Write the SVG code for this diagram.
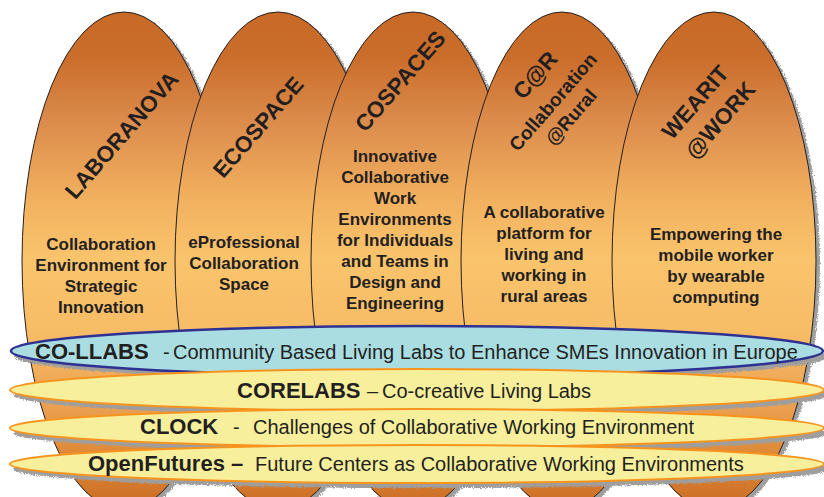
<svg xmlns="http://www.w3.org/2000/svg" width="824" height="497" viewBox="0 0 824 497">
<defs>
<linearGradient id="og" gradientUnits="userSpaceOnUse" x1="0" y1="12" x2="0" y2="510">
<stop offset="0" stop-color="#C86926"/>
<stop offset="0.096" stop-color="#CB6E2B"/>
<stop offset="0.217" stop-color="#DB8B4B"/>
<stop offset="0.378" stop-color="#F2B15F"/>
<stop offset="0.498" stop-color="#FAC46C"/>
<stop offset="0.639" stop-color="#F7BC66"/>
<stop offset="0.779" stop-color="#EDA354"/>
<stop offset="0.92" stop-color="#D9812F"/>
<stop offset="1" stop-color="#C96A26"/>
</linearGradient>
<filter id="rough" x="-5%" y="-5%" width="110%" height="115%">
<feTurbulence type="fractalNoise" baseFrequency="0.9" numOctaves="2" seed="3" result="n"/>
<feDisplacementMap in="SourceGraphic" in2="n" scale="5" xChannelSelector="R" yChannelSelector="G"/>
</filter>
</defs>
<style>
.tall{fill:url(#og);stroke:#231F20;stroke-width:1}
.sh{fill:#9E9E9E;filter:url(#rough)}
.title{font-family:"Liberation Sans",Arial,sans-serif;font-weight:bold;font-size:22.5px;fill:#231F20;text-anchor:middle}
.sub{font-size:19px}
.desc{font-family:"Liberation Sans",Arial,sans-serif;font-weight:bold;font-size:17px;fill:#231F20;text-anchor:middle}
.blue{fill:#A9DDE2;stroke:#2E3192;stroke-width:2.5}
.yel{fill:#F7EF9B;stroke:#F7941D;stroke-width:2}
.band{font-family:"Liberation Sans",Arial,sans-serif;font-size:20px;fill:#231F20}
.b{font-weight:bold;font-size:22px}
</style>
<rect width="824" height="497" fill="#FFFFFF"/>

<g id="laboranova">
<ellipse class="sh" cx="128" cy="264" rx="102" ry="249"/>
<ellipse class="tall" cx="124" cy="261" rx="102" ry="249"/>
<text class="title" transform="translate(121.5,135) rotate(-49)" x="0" y="8">LABORANOVA</text>
<text class="desc" x="101" y="250">Collaboration</text>
<text class="desc" x="101" y="271">Environment for</text>
<text class="desc" x="101" y="292">Strategic</text>
<text class="desc" x="101" y="313">Innovation</text>
</g>

<g id="ecospace">
<ellipse class="sh" cx="282" cy="264" rx="103" ry="249"/>
<ellipse class="tall" cx="278" cy="261" rx="103" ry="249"/>
<text class="title" transform="translate(258,127) rotate(-49)" x="0" y="8">ECOSPACE</text>
<text class="desc" x="244" y="248">eProfessional</text>
<text class="desc" x="244" y="269">Collaboration</text>
<text class="desc" x="244" y="290">Space</text>
</g>

<g id="cospaces">
<ellipse class="sh" cx="417" cy="264" rx="102" ry="249"/>
<ellipse class="tall" cx="413" cy="261" rx="102" ry="249"/>
<text class="title" transform="translate(400,81) rotate(-49)" x="0" y="8">COSPACES</text>
<text class="desc" x="395" y="162">Innovative</text>
<text class="desc" x="395" y="183">Collaborative</text>
<text class="desc" x="395" y="204">Work</text>
<text class="desc" x="395" y="225">Environments</text>
<text class="desc" x="395" y="246">for Individuals</text>
<text class="desc" x="395" y="267">and Teams in</text>
<text class="desc" x="395" y="288">Design and</text>
<text class="desc" x="395" y="309">Engineering</text>
</g>

<g id="car">
<ellipse class="sh" cx="566" cy="264" rx="101" ry="249"/>
<ellipse class="tall" cx="562" cy="261" rx="101" ry="249"/>
<text class="title" transform="translate(535,75) rotate(-49)" x="0" y="8">C@R</text>
<text class="title sub" transform="translate(553,102) rotate(-49)" x="0" y="6.5">Collaboration</text>
<text class="title sub" transform="translate(571,117) rotate(-49)" x="0" y="6.5">@Rural</text>
<text class="desc" x="544" y="218">A collaborative</text>
<text class="desc" x="544" y="239">platform for</text>
<text class="desc" x="544" y="260">living and</text>
<text class="desc" x="544" y="281">working in</text>
<text class="desc" x="544" y="302">rural areas</text>
</g>

<g id="wearit">
<ellipse class="sh" cx="718" cy="264" rx="102" ry="249"/>
<ellipse class="tall" cx="714" cy="261" rx="102" ry="249"/>
<text class="title" transform="translate(695,102) rotate(-49)" x="0" y="8">WEARIT</text>
<text class="title" transform="translate(720,120) rotate(-49)" x="0" y="8">@WORK</text>
<text class="desc" x="716" y="240">Empowering the</text>
<text class="desc" x="716" y="261">mobile worker</text>
<text class="desc" x="716" y="282">by wearable</text>
<text class="desc" x="716" y="303">computing</text>
</g>

<g id="co-llabs">
<ellipse class="sh" cx="421" cy="356" rx="407" ry="25"/>
<ellipse class="blue" cx="417" cy="351" rx="406" ry="25"/>
<text class="band" y="359"><tspan class="b" x="35">CO-LLABS</tspan><tspan x="163">-</tspan><tspan x="173">Community Based Living Labs to Enhance SMEs Innovation in Europe</tspan></text>
</g>

<g id="corelabs">
<ellipse class="sh" cx="421" cy="395" rx="408" ry="21"/>
<ellipse class="yel" cx="417" cy="390" rx="407" ry="21"/>
<text class="band" y="398"><tspan class="b" x="237">CORELABS</tspan><tspan x="367">–</tspan><tspan x="382">Co-creative Living Labs</tspan></text>
</g>

<g id="clock">
<ellipse class="sh" cx="421" cy="433" rx="408" ry="19"/>
<ellipse class="yel" cx="417" cy="428" rx="407" ry="19"/>
<text class="band" y="434"><tspan class="b" x="140">CLOCK</tspan><tspan x="233">-</tspan><tspan x="253">Challenges of Collaborative Working Environment</tspan></text>
</g>

<g id="openfutures">
<ellipse class="sh" cx="421" cy="469" rx="408" ry="19"/>
<ellipse class="yel" cx="417" cy="464" rx="407" ry="19"/>
<text class="band" y="471"><tspan class="b" x="88">OpenFutures –</tspan><tspan x="255">Future Centers as Collaborative Working Environments</tspan></text>
</g>
</svg>
